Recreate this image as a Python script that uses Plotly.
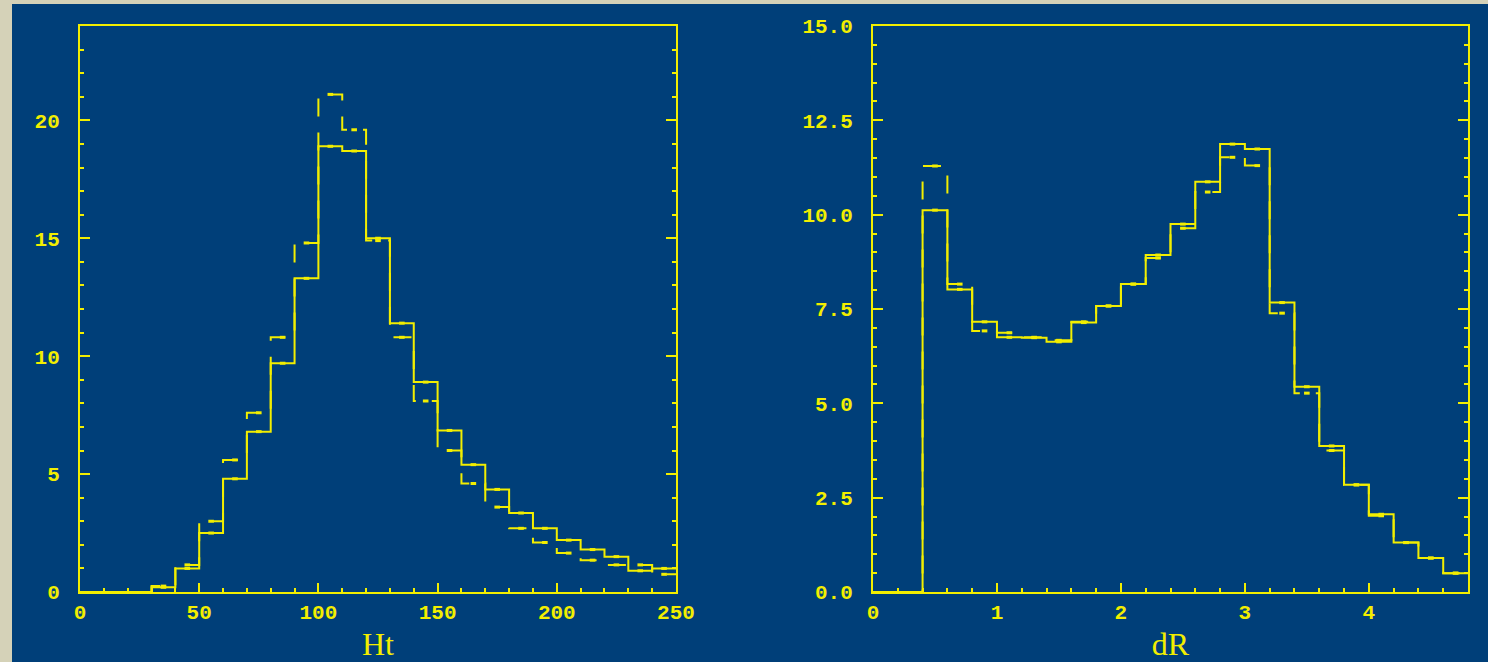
import plotly.graph_objects as go

# ---- data ----
ht_edges = list(range(0, 260, 10))
ht_solid = [0, 0, 0, 0.2, 1.0, 2.5, 4.8, 6.8, 9.7, 13.3, 18.9, 18.7, 15.0, 11.4,
            8.9, 6.85, 5.4, 4.35, 3.35, 2.7, 2.2, 1.8, 1.5, 0.9, 1.0]
ht_dashed = [0, 0, 0, 0.25, 1.15, 3.0, 5.6, 7.6, 10.8, 14.8, 21.1, 19.6, 14.9, 10.8,
             8.1, 6.0, 4.6, 3.6, 2.7, 2.1, 1.65, 1.35, 1.15, 1.15, 0.75]

dr_edges = [round(0.2 * i, 1) for i in range(25)]
dr_solid = [0, 0, 10.12, 8.02, 7.16, 6.75, 6.74, 6.63, 7.14, 7.58, 8.16, 8.93, 9.75,
            10.87, 11.87, 11.74, 7.67, 5.44, 3.87, 2.84, 2.06, 1.31, 0.90, 0.50]
dr_dashed = [0, 0, 11.29, 8.16, 6.92, 6.87, 6.75, 6.67, 7.16, 7.58, 8.16, 8.85, 9.64,
             10.6, 11.52, 11.3, 7.39, 5.27, 3.75, 2.84, 2.02, 1.31, 0.90, 0.50]

ht_ticks = [0, 50, 100, 150, 200, 250]
ht_yticks = [0, 5, 10, 15, 20]
dr_ticks = [0, 1, 2, 3, 4]
dr_yticks = [0, 2.5, 5.0, 7.5, 10.0, 12.5, 15.0]

YEL = "#f2ee00"
BLUE = "#003f79"
BEIGE = "#d5d2b8"

fig = go.Figure()


def add_hist(edges, vals, xa, ya, dash):
    x = list(edges)
    y = list(vals) + [vals[-1]]
    fig.add_trace(go.Scatter(x=x, y=y, mode="lines", line_shape="hv",
                             line=dict(color=YEL, width=2, dash=dash),
                             xaxis=xa, yaxis=ya, showlegend=False, hoverinfo="skip"))
    centers = [(edges[i] + edges[i + 1]) / 2 for i in range(len(vals)) if vals[i] > 0]
    cv = [v for v in vals if v > 0]
    fig.add_trace(go.Scatter(x=centers, y=cv, mode="markers",
                             marker=dict(symbol="line-ew-open", size=4, color=YEL,
                                         line=dict(color=YEL, width=3)),
                             xaxis=xa, yaxis=ya, showlegend=False, hoverinfo="skip"))


add_hist(ht_edges, ht_dashed, "x", "y", "18px,16px")
add_hist(ht_edges, ht_solid, "x", "y", "solid")
add_hist(dr_edges, dr_dashed, "x2", "y2", "18px,16px")
add_hist(dr_edges, dr_solid, "x2", "y2", "solid")

tickfont = dict(family="Liberation Mono", size=21, color=YEL, weight="bold")
titlefont = dict(family="Liberation Serif", size=32, color=YEL)

H = 662
ybot = (H - 592) / H
ytop = (H - 26) / H

common_x = dict(showline=True, linecolor=YEL, linewidth=2, mirror=True,
                ticks="inside", tickcolor=YEL, ticklen=9, tickwidth=2,
                showgrid=False, zeroline=False, tickfont=tickfont, automargin=False)
common_y = dict(showline=True, linecolor=YEL, linewidth=2, mirror="ticks",
                ticks="inside", tickcolor=YEL, ticklen=10, tickwidth=2,
                showgrid=False, zeroline=False, tickfont=tickfont, automargin=False)

fig.update_layout(
    width=1488, height=662,
    margin=dict(l=0, r=0, t=0, b=0, pad=0, autoexpand=False),
    paper_bgcolor=BEIGE,
    plot_bgcolor=BLUE,
    shapes=[dict(type="rect", xref="paper", yref="paper",
                 x0=12 / 1488, x1=1.0, y0=0, y1=(H - 4) / H,
                 fillcolor=BLUE, line=dict(width=0), layer="below")],
    xaxis=dict(domain=[80 / 1488, 676 / 1488], range=[0, 250],
               tickvals=ht_ticks, ticktext=[str(t) for t in ht_ticks],
               minor=dict(ticks="inside", dtick=10, ticklen=4, tickcolor=YEL, tickwidth=2),
               title=dict(text="Ht", font=titlefont, standoff=8),
               anchor="y", **common_x),
    yaxis=dict(domain=[ybot, ytop], range=[0, 24],
               tickvals=ht_yticks, ticktext=[str(t) for t in ht_yticks],
               minor=dict(ticks="inside", dtick=1, ticklen=4, tickcolor=YEL, tickwidth=2),
               ticklabelstandoff=14,
               anchor="x", **common_y),
    xaxis2=dict(domain=[873 / 1488, 1468 / 1488], range=[0, 4.8],
                tickvals=dr_ticks, ticktext=[str(t) for t in dr_ticks],
                minor=dict(ticks="inside", dtick=0.2, ticklen=4, tickcolor=YEL, tickwidth=2),
                title=dict(text="dR", font=titlefont, standoff=8),
                anchor="y2", **common_x),
    yaxis2=dict(domain=[ybot, ytop], range=[0, 15],
                tickvals=dr_yticks, ticktext=["%.1f" % t for t in dr_yticks],
                minor=dict(ticks="inside", dtick=0.5, ticklen=4, tickcolor=YEL, tickwidth=2),
                ticklabelstandoff=14,
                anchor="x2", **common_y),
)

fig.write_html("out.html",
               post_script="document.body.style.margin='0';"
                           "document.body.style.padding='0';"
                           "document.body.style.overflow='hidden';")
